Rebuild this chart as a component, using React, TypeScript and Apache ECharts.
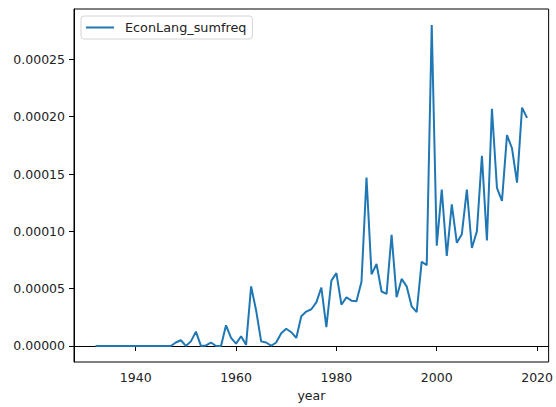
import React, { useEffect, useRef } from "react";
import * as echarts from "echarts";

const years: number[] = [];
for (let y = 1932; y <= 2018; y++) years.push(y);

const econLangSumfreq: number[] = [
  // 1932-1947
  0, 0, 0, 0, 0, 0, 0, 0, 0, 0, 0, 0, 0, 0, 0, 0,
  // 1948-1957
  0.3e-5, 0.5e-5, 0, 0.4e-5, 1.25e-5, 0, 0.05e-5, 0.3e-5, 0, 0,
  // 1958-1967
  1.8e-5, 0.7e-5, 0.2e-5, 0.85e-5, 0.1e-5, 5.2e-5, 3.1e-5, 0.4e-5, 0.3e-5, 0.02e-5,
  // 1968-1977
  0.3e-5, 1.1e-5, 1.5e-5, 1.2e-5, 0.7e-5, 2.6e-5, 3.0e-5, 3.2e-5, 3.8e-5, 5.1e-5,
  // 1978-1987
  1.65e-5, 5.7e-5, 6.35e-5, 3.6e-5, 4.25e-5, 3.95e-5, 3.9e-5, 5.6e-5, 14.7e-5, 6.25e-5,
  // 1988-1997
  7.15e-5, 4.75e-5, 4.55e-5, 9.7e-5, 4.25e-5, 5.85e-5, 5.2e-5, 3.45e-5, 2.95e-5, 7.35e-5,
  // 1998-2007
  7.05e-5, 28.0e-5, 8.75e-5, 13.65e-5, 7.85e-5, 12.35e-5, 9.0e-5, 9.75e-5, 13.65e-5, 8.55e-5,
  // 2008-2018
  10.0e-5, 16.6e-5, 9.2e-5, 20.7e-5, 13.8e-5, 12.65e-5, 18.4e-5, 17.25e-5, 14.25e-5, 20.8e-5, 19.9e-5,
];

const xTicks = [1940, 1960, 1980, 2000, 2020];
const yTicks = [0, 0.00005, 0.0001, 0.00015, 0.0002, 0.00025];
const seriesName = "EconLang_sumfreq";
const xName = "year";

export default function App() {
  const ref = useRef<HTMLDivElement>(null);
  useEffect(() => {
    if (!ref.current) return;
    const chart = echarts.init(ref.current, undefined, { renderer: "svg" });
    const font = "DejaVu Sans";
    const textColor = "#222";
    const fs = 12.5;
    chart.setOption({
      animation: false,
      grid: {
        left: 74,
        right: 6,
        top: 9,
        bottom: 45,
        show: true,
        borderColor: "#000",
        borderWidth: 1,
        backgroundColor: "transparent",
      },
      legend: {
        show: true,
        left: 81,
        top: 16,
        padding: [5, 6, 5, 5],
        itemWidth: 28,
        itemHeight: 2,
        icon: "rect",
        borderColor: "#d4d4d4",
        borderWidth: 1,
        borderRadius: 3,
        backgroundColor: "rgba(255,255,255,0.8)",
        textStyle: {
          fontFamily: font,
          fontSize: 12.8,
          color: textColor,
          padding: [0, 0, 0, 6],
        },
        data: [seriesName],
      },
      xAxis: {
        type: "value",
        min: 1927.7,
        max: 2022.3,
        name: xName,
        nameLocation: "middle",
        nameGap: 27,
        nameTextStyle: { fontFamily: font, fontSize: fs, color: textColor },
        axisLine: { show: true, lineStyle: { color: "#000", width: 1 } },
        axisTick: {
          show: true,
          inside: false,
          length: 5,
          customValues: xTicks,
          lineStyle: { color: "#000", width: 1 },
        },
        axisLabel: {
          customValues: xTicks,
          margin: 9,
          fontFamily: font,
          fontSize: fs,
          color: textColor,
          formatter: (v: number) => String(Math.round(v)),
        },
        splitLine: { show: false },
      },
      yAxis: {
        type: "value",
        min: -1.4e-5,
        max: 2.94e-4,
        axisLine: { show: true, onZero: false, lineStyle: { color: "#000", width: 1 } },
        axisTick: {
          show: true,
          inside: false,
          length: 5,
          customValues: yTicks,
          lineStyle: { color: "#000", width: 1 },
        },
        axisLabel: {
          customValues: yTicks,
          margin: 9,
          fontFamily: font,
          fontSize: fs,
          color: textColor,
          formatter: (v: number) => v.toFixed(5),
        },
        splitLine: { show: false },
      },
      series: [
        {
          name: seriesName,
          type: "line",
          data: years.map((y, i) => [y, econLangSumfreq[i]]),
          symbol: "none",
          showSymbol: false,
          lineStyle: { color: "#1f77b4", width: 2 },
          itemStyle: { color: "#1f77b4" },
        },
      ],
    });
    return () => chart.dispose();
  }, []);
  return (
    <div
      ref={ref}
      style={{ position: "fixed", left: 0, top: 0, width: 556, height: 407, background: "#fff" }}
    />
  );
}
